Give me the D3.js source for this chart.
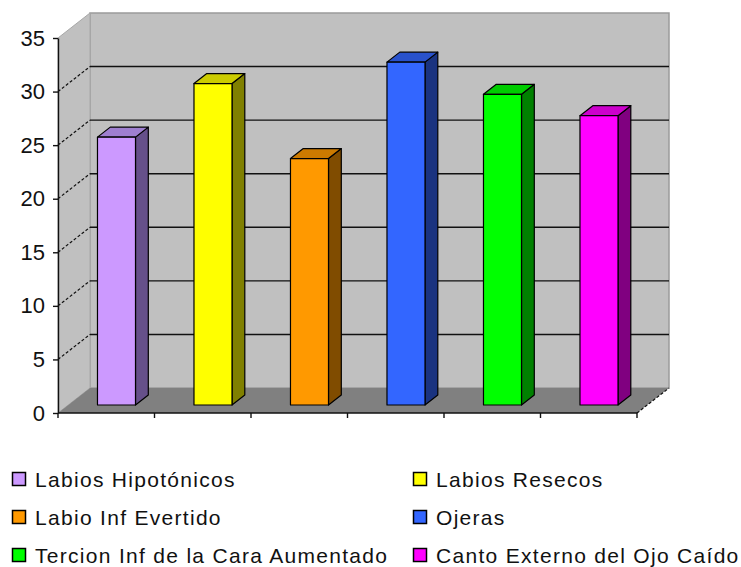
<!DOCTYPE html>
<html>
<head>
<meta charset="utf-8">
<script src="https://cdn.jsdelivr.net/npm/d3@7"></script>
<style>
  html, body { margin: 0; padding: 0; background: #fff; }
  svg { display: block; }
  text { font-family: "Liberation Sans", Arial, sans-serif; fill: #111; }
</style>
</head>
<body>
<svg id="chart" width="741" height="567"></svg>
<script>
// ---- data ----
const categories = ["Labios Hipotónicos", "Labios Resecos", "Labio Inf Evertido", "Ojeras", "Tercion Inf de la Cara Aumentado", "Canto Externo del Ojo Caído"];
const values = [25, 30, 23, 32, 29, 27];
const frontColors = ["#CC99FF", "#FFFF00", "#FF9900", "#3366FF", "#00FF00", "#FF00FF"];
const topColors = ["#9F7FD0", "#CCCC00", "#CC7A00", "#2952CC", "#00CC00", "#CC00CC"];
const sideColors = ["#66508A", "#808000", "#804C00", "#1A3380", "#008000", "#800080"];
const yTicks = [0, 5, 10, 15, 20, 25, 30, 35];

// ---- layout ----
const svg = d3.select("#chart");
const x = d3.scaleBand().domain(categories).range([58, 637]).padding(0);
const y = d3.scaleLinear().domain([0, 35]).range([413, 38]);
const DX = 32, DY = 25;           // depth offset of the back wall
const dFront = 0.32, dBack = 0.72; // bar depth position
const barFrac = 0.394;
const P = (px, v, d) => [px + DX * d, y(v) - DY * d];
const line = d3.line();

const x0 = x.range()[0], x1 = x.range()[1];
const vMax = y.domain()[1];

// back wall
svg.append("path")
  .attr("d", line([P(x0, 0, 1), P(x0, vMax, 1), P(x1, vMax, 1), P(x1, 0, 1)]) + "Z")
  .attr("fill", "#c0c0c0").attr("stroke", "#9a9a9a").attr("stroke-width", 1.5);
// left wall
svg.append("path")
  .attr("d", line([P(x0, 0, 0), P(x0, vMax, 0), P(x0, vMax, 1), P(x0, 0, 1)]) + "Z")
  .attr("fill", "#c0c0c0").attr("stroke", "#a8a8a8").attr("stroke-width", 1);
// floor
svg.append("path")
  .attr("d", line([P(x0, 0, 0), P(x1, 0, 0), P(x1, 0, 1), P(x0, 0, 1)]) + "Z")
  .attr("fill", "#808080");

// gridlines (back wall + left wall)
const gridVals = yTicks.filter(v => v > 0 && v < vMax);
svg.append("g").selectAll("path.gb").data(gridVals).join("path")
  .attr("d", v => line([P(x0, v, 1), P(x1, v, 1)]))
  .attr("stroke", "#111").attr("stroke-width", 1.4).attr("fill", "none");
svg.append("g").selectAll("path.gl").data(gridVals).join("path")
  .attr("d", v => line([P(x0, v, 0), P(x0, v, 1)]))
  .attr("stroke", "#111").attr("stroke-width", 1.2).attr("stroke-dasharray", "3,2").attr("fill", "none");

// floor right edge dashed
svg.append("path")
  .attr("d", line([P(x1, 0, 0), P(x1, 0, 1)]))
  .attr("stroke", "#111").attr("stroke-width", 1.2).attr("stroke-dasharray", "3,2").attr("fill", "none");

// bars
const bw = x.bandwidth() * barFrac;
const bars = svg.append("g").selectAll("g").data(categories).join("g");
bars.each(function (c, i) {
  const g = d3.select(this);
  const xl = x(c) + x.bandwidth() / 2 - bw / 2;
  const xr = xl + bw;
  const v = values[i];
  // side
  g.append("path")
    .attr("d", line([P(xr, 0, dFront), P(xr, v, dFront), P(xr, v, dBack), P(xr, 0, dBack)]) + "Z")
    .attr("fill", sideColors[i]).attr("stroke", "#000").attr("stroke-width", 1.2).attr("stroke-linejoin", "round");
  // top
  g.append("path")
    .attr("d", line([P(xl, v, dFront), P(xr, v, dFront), P(xr, v, dBack), P(xl, v, dBack)]) + "Z")
    .attr("fill", topColors[i]).attr("stroke", "#000").attr("stroke-width", 1.2).attr("stroke-linejoin", "round");
  // front
  g.append("path")
    .attr("d", line([P(xl, 0, dFront), P(xl, v, dFront), P(xr, v, dFront), P(xr, 0, dFront)]) + "Z")
    .attr("fill", frontColors[i]).attr("stroke", "#000").attr("stroke-width", 1.2).attr("stroke-linejoin", "round");
});

// y axis
const yAxis = svg.append("g").attr("transform", `translate(${x0},0)`)
  .call(d3.axisLeft(y).tickValues(yTicks).tickSize(5).tickSizeOuter(0).tickPadding(8));
yAxis.selectAll("path, line").attr("stroke", "#111").attr("stroke-width", 1.4);
yAxis.selectAll("text").attr("font-size", 22).attr("font-family", "'Liberation Sans', Arial, sans-serif").attr("fill", "#222");

// x axis line + boundary ticks
svg.append("path").attr("d", line([[x0, y(0)], [x1, y(0)]])).attr("stroke", "#111").attr("stroke-width", 1.4);
const bounds = categories.map(c => x(c)).concat([x1]);
svg.append("g").selectAll("line").data(bounds).join("line")
  .attr("x1", d => d).attr("x2", d => d)
  .attr("y1", y(0)).attr("y2", y(0) + 5)
  .attr("stroke", "#111").attr("stroke-width", 1.4);

// legend
const legCols = [12, 413];
const legRow0 = 487, legRowStep = 38;
const leg = svg.append("g").selectAll("g").data(categories).join("g")
  .attr("transform", (c, i) => `translate(${legCols[i % 2]},${legRow0 + Math.floor(i / 2) * legRowStep})`);
leg.append("rect").attr("x", 0.5).attr("y", -14.5).attr("width", 13).attr("height", 13)
  .attr("fill", (c, i) => frontColors[i]).attr("stroke", "#000").attr("stroke-width", 1.5);
leg.append("text").attr("x", 23).attr("y", 0)
  .attr("font-size", 21).attr("letter-spacing", "1.3px").attr("fill", "#1a1a1a")
  .text(c => c);
</script>
</body>
</html>
